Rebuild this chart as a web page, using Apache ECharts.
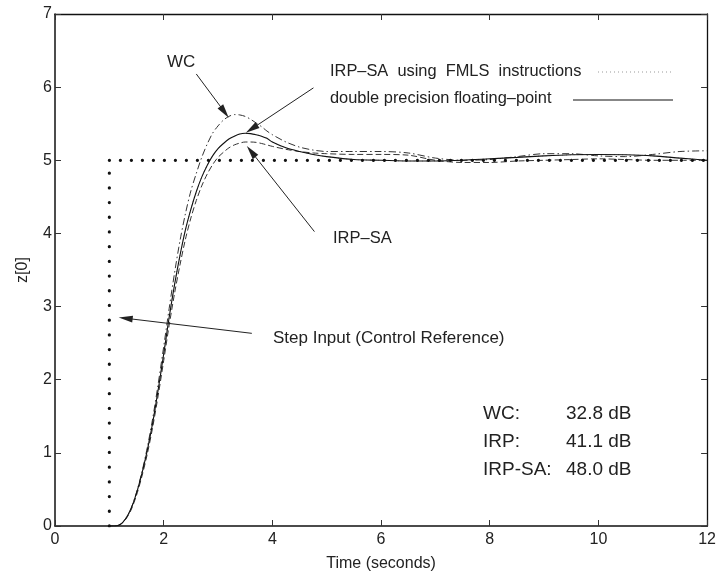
<!DOCTYPE html>
<html>
<head>
<meta charset="utf-8">
<script src="https://cdn.jsdelivr.net/npm/echarts@6/dist/echarts.min.js"></script>
<style>html,body{margin:0;padding:0;background:#fff;}#c{width:719px;height:577px;}</style>
</head>
<body>
<div id="c"></div>
<script>
// ---- data ----
const time = [1.0,1.1,1.2,1.3,1.4,1.5,1.6,1.7,1.8,1.9,2.0,2.1,2.2,2.3,2.4,2.5,2.6,2.7,2.8,2.9,3.0,3.1,3.2,3.3,3.4,3.5,3.6,3.7,3.8,3.9,4.0,
  4.25,4.5,4.75,5.0,5.5,6.0,6.5,7.0,7.5,8.0,8.5,9.0,9.5,10.0,10.5,11.0,11.5,12.0];
const doublePrec = [0,0,0.02,0.1,0.24,0.45,0.72,1.04,1.42,1.87,2.35,2.85,3.3,3.7,4.05,4.33,4.57,4.77,4.93,5.06,5.16,5.23,5.29,5.33,5.36,5.37,5.365,5.35,5.33,5.3,5.25,
  5.17,5.12,5.08,5.05,5.01,5.0,4.99,4.99,5.0,5.02,5.04,5.06,5.075,5.08,5.075,5.06,5.03,5.0];
const fmls = [0,0,0.02,0.1,0.24,0.45,0.72,1.04,1.42,1.87,2.35,2.85,3.3,3.7,4.05,4.33,4.57,4.77,4.93,5.06,5.16,5.23,5.29,5.33,5.36,5.37,5.365,5.35,5.33,5.3,5.25,
  5.17,5.12,5.08,5.05,5.01,5.0,4.99,4.99,5.0,5.02,5.04,5.06,5.075,5.08,5.075,5.06,5.03,5.0];
const irpsa = [0,0,0.02,0.09,0.22,0.42,0.68,0.99,1.36,1.79,2.26,2.74,3.18,3.57,3.92,4.21,4.45,4.65,4.81,4.94,5.04,5.11,5.17,5.21,5.235,5.25,5.25,5.245,5.23,5.21,5.19,
  5.15,5.12,5.1,5.09,5.08,5.08,5.07,5.0,4.97,4.97,4.99,5.0,5.01,5.02,5.01,5.0,5.0,5.0];
const wc = [0,0,0.02,0.1,0.24,0.46,0.74,1.08,1.48,1.95,2.45,2.97,3.46,3.9,4.27,4.58,4.82,5.04,5.22,5.37,5.47,5.55,5.6,5.625,5.62,5.6,5.56,5.51,5.46,5.4,5.35,
  5.25,5.18,5.14,5.12,5.12,5.12,5.1,5.03,5.0,5.01,5.05,5.09,5.09,5.06,5.05,5.08,5.12,5.13];
const stepX = [1, 1, 12];
const stepY = [0, 5, 5];
const seriesNames = ['IRP\u2013SA  using  FMLS  instructions', 'double precision floating\u2013point'];
const snrLabels = ['WC:', 'IRP:', 'IRP-SA:'];
const snrValues = ['32.8 dB', '41.1 dB', '48.0 dB'];
const xTicks = {min: 0, max: 12, interval: 2};
const yTicks = {min: 0, max: 7, interval: 1};

// ---- chart ----
const pairs = (xs, ys) => xs.map((x, i) => [x, ys[i]]);
const FONT = '"Liberation Sans", Arial, Helvetica, sans-serif';
const chart = echarts.init(document.getElementById('c'), null, {renderer: 'canvas'});

const axisCommon = {
  axisLine: {show: true, onZero: false, lineStyle: {color: '#111', width: 1.5}},
  axisTick: {show: true, inside: true, length: 6, lineStyle: {color: '#333', width: 1}},
  splitLine: {show: false}
};

const arrow = (x1, y1, x2, y2) => [{coord: [x1, y1]}, {coord: [x2, y2]}];
const txt = (s, x, y, size) => ({type: 'text', x: x, y: y, silent: true,
  style: {text: s, font: size + 'px ' + FONT, fill: '#222', verticalAlign: 'middle', align: 'left'}});

const option = {
  animation: false,
  backgroundColor: '#fff',
  grid: {left: 55, right: 8, top: 14, bottom: 50, containLabel: false},
  xAxis: [
    Object.assign({type: 'value', position: 'bottom', min: xTicks.min, max: xTicks.max, interval: xTicks.interval,
      name: 'Time (seconds)', nameLocation: 'middle', nameGap: 30,
      nameTextStyle: {fontFamily: FONT, fontSize: 16, color: '#222'},
      axisLabel: {fontFamily: FONT, fontSize: 16, color: '#222', margin: 6}}, axisCommon),
    Object.assign({type: 'value', position: 'top', min: xTicks.min, max: xTicks.max, interval: xTicks.interval,
      axisLabel: {show: false}}, axisCommon, {axisLine: {show: true, onZero: false, lineStyle: {color: '#111', width: 1.3}}})
  ],
  yAxis: [
    Object.assign({type: 'value', position: 'left', min: yTicks.min, max: yTicks.max, interval: yTicks.interval,
      name: 'z[0]', nameLocation: 'middle', nameGap: 24,
      nameTextStyle: {fontFamily: FONT, fontSize: 16, color: '#222'},
      axisLabel: {fontFamily: FONT, fontSize: 16, color: '#222', margin: 3}}, axisCommon),
    Object.assign({type: 'value', position: 'right', min: yTicks.min, max: yTicks.max, interval: yTicks.interval,
      axisLabel: {show: false}}, axisCommon, {axisLine: {show: true, onZero: false, lineStyle: {color: '#111', width: 1.3}}})
  ],
  series: [
    {
      name: seriesNames[0], type: 'line', symbol: 'none', smooth: 0.3, z: 1,
      data: pairs(time, fmls),
      lineStyle: {color: '#999', width: 1, type: [1, 3]}
    },
    {
      name: 'WC', type: 'line', symbol: 'none', smooth: 0.3, z: 2,
      data: pairs(time, wc),
      lineStyle: {color: '#333', width: 1, type: [7, 3, 1.5, 3]}
    },
    {
      name: 'IRP-SA', type: 'line', symbol: 'none', smooth: 0.3, z: 2,
      data: pairs(time, irpsa),
      lineStyle: {color: '#333', width: 1, type: [6, 3]}
    },
    {
      name: seriesNames[1], type: 'line', symbol: 'none', smooth: 0.3, z: 3,
      data: pairs(time, doublePrec),
      lineStyle: {color: '#111', width: 1.1, type: 'solid'}
    },
    {
      name: 'Step vertical', type: 'line', symbol: 'none', z: 4,
      data: pairs(stepX.slice(0, 2), stepY.slice(0, 2)),
      lineStyle: {color: '#111', width: 3.2, type: [0.1, 14.6], cap: 'round'}
    },
    {
      name: 'Step horizontal', type: 'line', symbol: 'none', z: 4,
      data: pairs(stepX.slice(1), stepY.slice(1)),
      lineStyle: {color: '#111', width: 3.2, type: [0.1, 10.9], cap: 'round'}
    },
    {
      name: 'annotations', type: 'line', data: [], z: 5,
      markLine: {
        silent: true,
        symbol: ['none', 'triangle'],
        symbolSize: [7, 14],
        label: {show: false},
        lineStyle: {color: '#222', width: 1, type: 'solid'},
        data: [
          arrow(2.60, 6.18, 3.12, 5.66),
          arrow(4.756, 5.99, 3.62, 5.43),
          arrow(4.774, 4.025, 3.61, 5.12),
          arrow(3.622, 2.634, 1.30, 2.84)
        ]
      }
    }
  ],
  graphic: [
    txt('WC', 167, 62, 17),
    txt('IRP\u2013SA', 333, 238, 16.5),
    txt('Step Input (Control Reference)', 273, 338, 17),
    txt(seriesNames[0], 330, 71, 16.4),
    txt(seriesNames[1], 330, 98, 16.4),
    {type: 'line', silent: true, shape: {x1: 598, y1: 72, x2: 672, y2: 72},
      style: {stroke: '#999', lineWidth: 1, lineDash: [1, 3]}},
    {type: 'line', silent: true, shape: {x1: 573, y1: 100, x2: 673, y2: 100},
      style: {stroke: '#111', lineWidth: 1.1}}
  ].concat(snrLabels.map((t, i) => txt(t, 483, 414 + i * 28, 19)))
   .concat(snrValues.map((t, i) => txt(t, 566, 414 + i * 28, 19)))
};
chart.setOption(option);
</script>
</body>
</html>
